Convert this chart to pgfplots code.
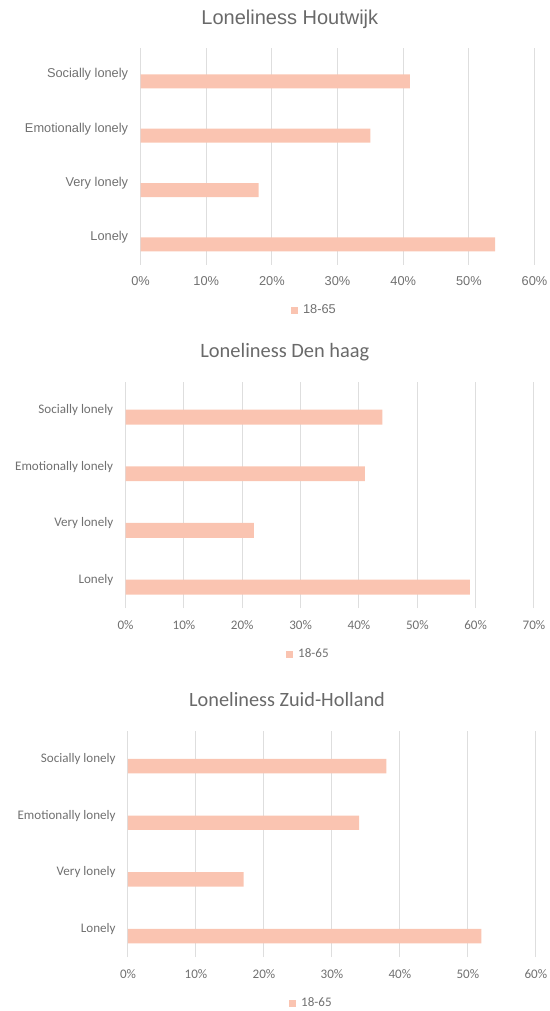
\documentclass[border=0pt]{standalone}
\usepackage{fontspec}
\usepackage{pgfplots}
\pgfplotsset{compat=1.18}
\setmainfont{Liberation Sans}
\newfontfamily\arialf{Liberation Sans}
\newfontfamily\narrowf{Carlito}

\definecolor{barpeach}{RGB}{250,196,177}
\definecolor{gridgray}{RGB}{222,222,222}
\definecolor{labelgray}{RGB}{112,112,112}
\definecolor{titlegray}{RGB}{105,105,105}

\pgfplotsset{
  lonely/.style={
    xbar, scale only axis,
    xmin=0, ymin=-0.37, ymax=3.62,
    ytick={0,1,2,3},
    yticklabels={Lonely,Very lonely,Emotionally lonely,Socially lonely},
    xmajorgrids,
    major grid style={draw=gridgray, line width=0.75pt},
    axis line style={draw=none},
    major tick length=0pt,
    tick label style={text=labelgray},
    yticklabel style={anchor=east, inner sep=0pt, xshift=-9.1pt, yshift=5.2pt},
    xticklabel style={anchor=center, inner sep=0pt},
    title style={anchor=base, text=titlegray},
    legend style={draw=none, fill=none, anchor=west, inner sep=0pt,
      text=labelgray, legend cell align=left},
    legend image code/.code={\fill[barpeach] (0pt,-2.6pt) rectangle (5.2pt,2.6pt);},
  },
}

\begin{document}
\begin{tikzpicture}
\path[use as bounding box] (0,0) rectangle (412.5pt,-758.25pt);

% Houtwijk
\begin{axis}[lonely,
  at={(105.4pt,-198.4pt)}, anchor=south west,
  width=295.5pt, height=162.75pt,
  xmax=60, xtick={0,10,...,60},
  xticklabels={0\%,10\%,20\%,30\%,40\%,50\%,60\%},
  bar width=10.5pt,
  tick label style={font=\arialf\fontsize{9.6}{11}\selectfont},
  xticklabel style={yshift=-12.2pt},
  title={Loneliness Houtwijk},
  title style={at={(0.379,1.067)}, font=\arialf\fontsize{15}{18}\selectfont},
  legend style={at={(0.382,-0.21)}, font=\arialf\fontsize{9.6}{11}\selectfont},
]
\addplot[draw=none, fill=barpeach] coordinates {
  (54,0) (18,1) (35,2) (41,3)
};
\addlegendentry{\,18-65}
\end{axis}

% Den haag
\begin{axis}[lonely,
  at={(94.2pt,-456pt)}, anchor=south west,
  width=306.3pt, height=169.5pt,
  xmax=70, xtick={0,10,...,70},
  xticklabels={0\%,10\%,20\%,30\%,40\%,50\%,60\%,70\%},
  bar width=11.2pt,
  tick label style={font=\narrowf\fontsize{9.8}{11}\selectfont},
  xticklabel style={yshift=-12.7pt},
  title={Loneliness Den haag},
  title style={at={(0.390,1.071)}, font=\narrowf\fontsize{15.3}{18}\selectfont},
  legend style={at={(0.393,-0.204)}, font=\narrowf\fontsize{9.8}{11}\selectfont},
]
\addplot[draw=none, fill=barpeach] coordinates {
  (59,0) (22,1) (41,2) (44,3)
};
\addlegendentry{\,18-65}
\end{axis}

% Zuid-Holland
\begin{axis}[lonely,
  at={(96pt,-717.75pt)}, anchor=south west,
  width=305.9pt, height=169.5pt,
  xmax=60, xtick={0,10,...,60},
  xticklabels={0\%,10\%,20\%,30\%,40\%,50\%,60\%},
  bar width=10.8pt,
  tick label style={font=\narrowf\fontsize{9.8}{11}\selectfont},
  xticklabel style={yshift=-12.7pt},
  title={Loneliness Zuid-Holland},
  title style={at={(0.390,1.071)}, font=\narrowf\fontsize{15.2}{18}\selectfont},
  legend style={at={(0.395,-0.204)}, font=\narrowf\fontsize{9.8}{11}\selectfont},
]
\addplot[draw=none, fill=barpeach] coordinates {
  (52,0) (17,1) (34,2) (38,3)
};
\addlegendentry{\,18-65}
\end{axis}
\end{tikzpicture}
\end{document}
